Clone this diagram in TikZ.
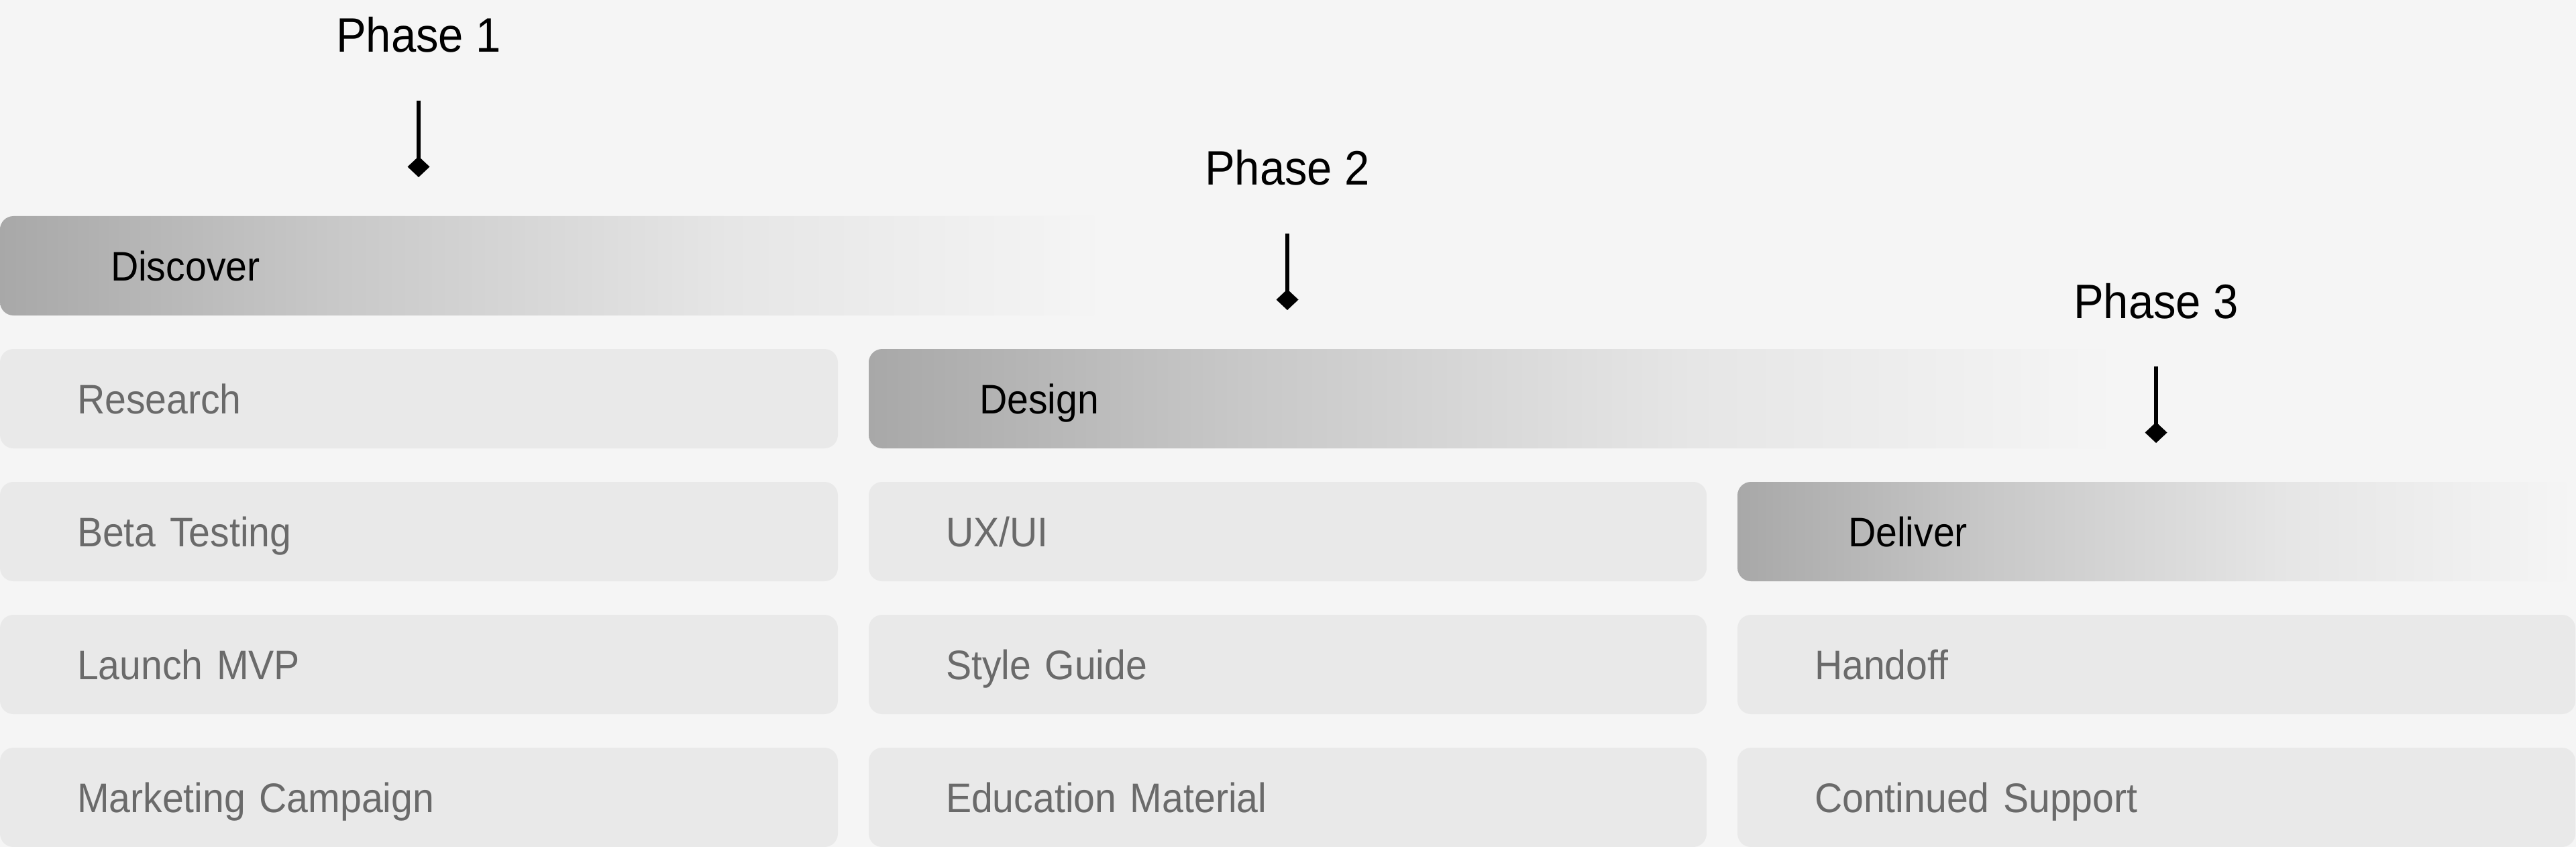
\documentclass[tikz,border=0pt]{standalone}
\usepackage{fontspec}
\setmainfont{Liberation Sans}[FakeStretch=0.93]
\usepackage{tikz}
\usetikzlibrary{arrows.meta, positioning}
\definecolor{PageBg}{HTML}{F5F5F5}
\definecolor{BoxGray}{HTML}{E9E9E9}
\definecolor{TaskText}{HTML}{6A6A6A}
\definecolor{FadeDark}{HTML}{A8A8A8}
\definecolor{FadeMid}{HTML}{C8C8C8}
\definecolor{FadeLight}{HTML}{E6E6E6}
\pgfdeclarehorizontalshading{phasefade}{100bp}{color(0bp)=(FadeDark); color(25bp)=(FadeDark); color(40bp)=(FadeMid); color(58bp)=(FadeLight); color(75bp)=(PageBg); color(100bp)=(PageBg)}
\tikzset{
  % Box styles
  taskbox/.style={rectangle, rounded corners=0.2cm, fill=BoxGray, text=TaskText, inner xsep=1.15cm, inner ysep=0pt, outer sep=0pt, text width=10.19cm, minimum height=1.48cm, text height=0.44cm, text depth=0pt, align=left, font=\fontsize{17.5pt}{20pt}\selectfont},
  phasebar/.style={rectangle, rounded corners=0.2cm, shade, shading=phasefade, text=black, inner xsep=1.65cm, inner ysep=0pt, outer sep=0pt, text width=#1, minimum height=1.48cm, text height=0.44cm, text depth=0pt, align=left, anchor=north west, font=\fontsize{17.5pt}{20pt}\selectfont},
  % Label styles
  phaselabel/.style={inner sep=0pt, text height=0.52cm, text depth=0pt, font=\fontsize{20.5pt}{24pt}\selectfont},
  % Arrow styles
  phasearrow/.style={-{Turned Square[length=0.31cm, width=0.33cm]}, line width=0.06cm, black, shorten <=0.71cm}
}
\begin{document}
\begin{tikzpicture}
  \useasboundingbox (0,0) rectangle (38.4,-12.62);
  \fill[PageBg] (0,0) rectangle (38.4,-12.62);

  % Phase bars
  \node[phasebar=13.2cm] (discover) at (0,-3.22) {Discover};
  \node[phasebar=15.35cm] (design) at (12.95,-5.20) {Design};

  % Column 1
  \node[taskbox, anchor=north west] (research) at (0,-5.20) {Research};
  \node[taskbox, below=0.5cm of research] (beta) {Beta Testing};
  \node[taskbox, below=0.5cm of beta] (launch) {Launch MVP};
  \node[taskbox, below=0.5cm of launch] (marketing) {Marketing Campaign};

  % Column 2
  \node[taskbox, right=0.46cm of beta] (uxui) {UX/UI};
  \node[taskbox, right=0.46cm of launch] (styleguide) {Style Guide};
  \node[taskbox, right=0.46cm of marketing] (education) {Education Material};

  % Column 3
  \node[phasebar=9.19cm, anchor=west, right=0.46cm of uxui] (deliver) {Deliver};
  \node[taskbox, right=0.46cm of styleguide] (handoff) {Handoff};
  \node[taskbox, right=0.46cm of education] (support) {Continued Support};

  % Phase markers
  \node[phaselabel] (ph1) at (6.24,-0.52) {Phase 1};
  \node[phaselabel] (ph2) at (19.19,-2.50) {Phase 2};
  \node[phaselabel] (ph3) at (32.14,-4.48) {Phase 3};
  \coordinate (tip1) at (6.24,-2.64);
  \coordinate (tip2) at (19.19,-4.62);
  \coordinate (tip3) at (32.14,-6.60);
  \draw[phasearrow] (ph1.south) -- (tip1);
  \draw[phasearrow] (ph2.south) -- (tip2);
  \draw[phasearrow] (ph3.south) -- (tip3);
\end{tikzpicture}
\end{document}
